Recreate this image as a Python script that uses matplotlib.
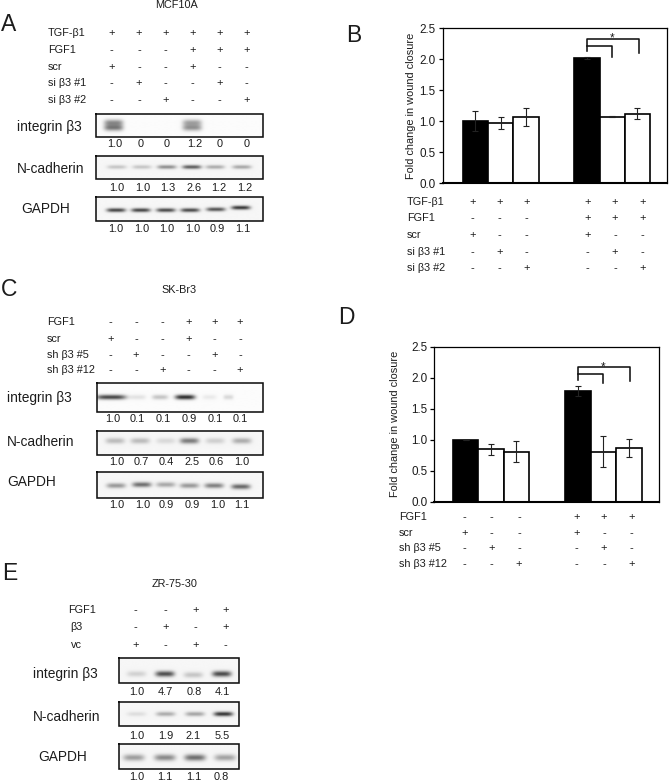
import numpy as np
import matplotlib
matplotlib.use("Agg")
import matplotlib.pyplot as plt

plt.rcParams['font.family'] = ['Liberation Sans', 'DejaVu Sans']

W, H = 669, 781
INK = '#1c1c1c'

# ---------- data: bar charts ----------
b_values = [1.00, 0.97, 1.07, 2.02, 1.07, 1.12]
b_errors = [0.16, 0.09, 0.15, 0.02, 0.01, 0.09]
b_colors = ['black', 'white', 'white', 'black', 'white', 'white']
d_values = [1.00, 0.85, 0.81, 1.79, 0.81, 0.87]
d_errors = [0.005, 0.09, 0.17, 0.08, 0.25, 0.15]
d_colors = ['black', 'white', 'white', 'black', 'white', 'white']
y_ticks = [0.0, 0.5, 1.0, 1.5, 2.0, 2.5]
y_label = 'Fold change in wound closure'

# ---------- data: treatment tables ----------
a_rows = ['TGF-β1', 'FGF1', 'scr', 'si β3 #1', 'si β3 #2']
a_marks = ['++++++', '---+++', '+--+--', '-+--+-', '--+--+']
c_rows = ['FGF1', 'scr', 'sh β3 #5', 'sh β3 #12']
c_marks = ['---+++', '+--+--', '-+--+-', '--+--+']
e_rows = ['FGF1', 'β3', 'vc']
e_marks = ['--++', '-+-+', '+-+-']

# ---------- data: densitometry labels ----------
a_integrin = ['1.0', '0', '0', '1.2', '0', '0']
a_ncad = ['1.0', '1.0', '1.3', '2.6', '1.2', '1.2']
a_gapdh = ['1.0', '1.0', '1.0', '1.0', '0.9', '1.1']
c_integrin = ['1.0', '0.1', '0.1', '0.9', '0.1', '0.1']
c_ncad = ['1.0', '0.7', '0.4', '2.5', '0.6', '1.0']
c_gapdh = ['1.0', '1.0', '0.9', '0.9', '1.0', '1.1']
e_integrin = ['1.0', '4.7', '0.8', '4.1']
e_ncad = ['1.0', '1.9', '2.1', '5.5']
e_gapdh = ['1.0', '1.1', '1.1', '0.8']

# ---------- data: visual band darkness (0-1) ----------
a_integrin_dark = [0.50, 0.40]
a_ncad_dark = [0.20, 0.20, 0.42, 0.62, 0.30, 0.32]
a_gapdh_dark = [0.72, 0.72, 0.70, 0.70, 0.66, 0.78]
c_integrin_dark = [0.72, 0.10, 0.22, 0.82, 0.07, 0.14]
c_ncad_dark = [0.24, 0.24, 0.12, 0.50, 0.16, 0.30]
c_gapdh_dark = [0.38, 0.55, 0.32, 0.38, 0.48, 0.58]
e_integrin_dark = [0.15, 0.68, 0.20, 0.70]
e_ncad_dark = [0.10, 0.30, 0.33, 0.78]
e_gapdh_dark = [0.36, 0.44, 0.55, 0.34]

fig = plt.figure(figsize=(W / 100, H / 100), dpi=100, facecolor='white')


def axes_px(x0, y0, x1, y1, **kw):
    return fig.add_axes([x0 / W, 1 - y1 / H, (x1 - x0) / W, (y1 - y0) / H], **kw)


def bar_panel(box, values, errors, colors, first, second_gap, width_px, bracket):
    ax = axes_px(*box)
    x0, y0, x1, y1 = box
    positions = np.array([0, 1, 2, second_gap, second_gap + 1, second_gap + 2])
    ax.bar(positions, values, width=1.0, color=colors, edgecolor='black', linewidth=1.2, zorder=2)
    ax.errorbar(positions, values, yerr=errors, fmt='none', ecolor='#222222',
                elinewidth=0.8, capsize=2.4, capthick=0.8, zorder=3)
    ax.set_xlim((x0 - first) / width_px, (x1 - first) / width_px)
    ax.set_ylim(0, 2.5)
    ax.set_xticks([])
    ax.set_yticks(y_ticks)
    ax.set_yticklabels([f'{v:.1f}' for v in y_ticks], fontsize=8.4, color=INK)
    ax.tick_params(axis='y', length=3, width=0.9, pad=2, color='black')
    for name, spine in ax.spines.items():
        spine.set_linewidth(1.5 if name == 'bottom' else 0.9)
    ax.set_ylabel(y_label, fontsize=7.9, color=INK, labelpad=3)
    top, inner, right_end, inner_end, left_end, star = bracket
    a, b, c = positions[3], positions[4], positions[5]
    ax.plot([a, a, c + 0.05, c + 0.05], [left_end, top, top, right_end], color='#111111', lw=1.15, zorder=4)
    ax.plot([a, b, b], [inner, inner, inner_end], color='#111111', lw=1.15, zorder=4)
    ax.text(b, star, '*', ha='center', va='center', fontsize=8.5, color=INK)
    return ax


ax_b = bar_panel((442.7, 28.3, 667, 183), b_values, b_errors, b_colors,
                 475.3, 4.41, 25.3, (2.33, 2.22, 2.105, 2.04, 2.14, 2.33))
ax_d = bar_panel((434.3, 346.7, 659.3, 502), d_values, d_errors, d_colors,
                 465.5, 4.43, 25.4, (2.17, 2.065, 1.95, 1.91, 1.96, 2.17))
ax_b.yaxis.set_label_coords((416 - 442.7) / (667 - 442.7), 0.5)
ax_d.yaxis.set_label_coords((400 - 434.3) / (659.3 - 434.3), 0.5)

# overlay in pixel coordinates for text and blots
ov = fig.add_axes([0, 0, 1, 1], facecolor='none')
ov.axis('off')


def label(x, y, s, size=7.8, ha='left'):
    ov.text(x, y, s, fontsize=size, ha=ha, va='center', color=INK)


def table(rows, marks, row_y, col_x, label_x):
    if np.isscalar(label_x):
        label_x = [label_x] * len(rows)
    for name, line, y, lx in zip(rows, marks, row_y, label_x):
        label(lx, y, name)
        for ch, x in zip(line, col_x):
            label(x, y, ch, size=8, ha='center')


def values_row(vals, xs, y):
    for v, x in zip(vals, xs):
        label(x, y, v, size=7.9, ha='center')


def blot(box, lanes, dark, band_y, half_w=9.5, sig=1.5, double=None, bg=0.965, tilt=None):
    x0, y0, x1, y1 = box
    xs = np.linspace(x0, x1, int((x1 - x0) * 3))
    ys = np.linspace(y0, y1, int((y1 - y0) * 3))
    X, Y = np.meshgrid(xs, ys)
    D = np.zeros_like(X)
    offs = tilt or [0] * len(lanes)
    widths = half_w if isinstance(half_w, (list, tuple)) else [half_w] * len(lanes)
    for lx, d, o, hw in zip(lanes, dark, offs, widths):
        fx = np.exp(-((X - lx) / hw) ** 4)
        if double:
            for yy, f in double:
                D += d * f * fx * np.exp(-((Y - yy - o) / sig) ** 2 / 2)
        else:
            D += d * fx * np.exp(-((Y - band_y - o) / sig) ** 2 / 2)
    img = np.clip(bg * (1 - np.clip(D, 0, 0.92)), 0, 1)
    ov.imshow(img, extent=(x0, x1, y1, y0), cmap='gray', vmin=0, vmax=1,
              aspect='auto', interpolation='bilinear', zorder=1)
    ov.plot([x0, x1, x1, x0, x0], [y0, y0, y1, y1, y0], color='#111111', lw=1.15, zorder=2,
            solid_joinstyle='miter')


# ---------- panel A ----------
label(176.7, 5, 'MCF10A', ha='center')
table(a_rows, a_marks, [33.3, 50, 66.7, 83.3, 100],
      [111.7, 139, 165.7, 192.3, 219.3, 246.7], 47.7)
blot((96, 113.7, 262.7, 137), [113.5, 192], a_integrin_dark, 126, half_w=9.5,
     double=[(123, 0.85), (128, 1.0)], sig=2.2, bg=0.985)
blot((96, 155.7, 262.7, 179.3), [116.7, 141.7, 166.7, 191.7, 215, 241.7], a_ncad_dark, 167.5, sig=1.4)
blot((96, 197.3, 262.7, 221), [116, 140.7, 165.7, 190, 215.7, 240.7], a_gapdh_dark, 210.3, sig=1.4,
     tilt=[0, 0, 0, 0, -0.8, -2.5])
values_row(a_integrin, np.array([343, 421, 500, 583, 660, 740]) / 3, 144.3)
values_row(a_ncad, np.array([351, 428, 504, 581, 657, 734]) / 3, 188.3)
values_row(a_gapdh, np.array([347, 424, 500, 577, 652, 729]) / 3, 229)
label(16.7, 126.5, 'integrin β3', size=9.9)
label(16.7, 169, 'N-cadherin', size=9.9)
label(21.7, 209.3, 'GAPDH', size=9.9)

# ---------- panel B table ----------
table(a_rows, a_marks, [201.7, 218.3, 235, 251.7, 268.3],
      [472.3, 499.3, 526.7, 587.7, 615, 642.3], 406.7)

# ---------- panel C ----------
label(179.3, 290, 'SK-Br3', ha='center')
table(c_rows, c_marks, [322.3, 338.7, 354.7, 370.3],
      [110.3, 136, 162.3, 188.3, 214.3, 240], 46.7)
blot((97, 383.3, 262.7, 412), [111, 137.7, 160, 185, 209.3, 228.3], c_integrin_dark, 397.3,
     half_w=[15, 8, 8, 10, 7, 5], sig=1.7, bg=0.985)
blot((97, 431, 262.7, 455.3), [115, 140, 165.7, 189.3, 215, 241.7], c_ncad_dark, 441.5, sig=2.0)
blot((97, 472, 262.7, 497.7), [116, 141.7, 165.7, 189.3, 214, 240.7], c_gapdh_dark, 485.5, sig=1.8,
     tilt=[0, -1, -1, 0, 0, 1])
values_row(c_integrin, np.array([337, 413, 490, 568, 645, 722]) / 3, 419)
values_row(c_ncad, np.array([350, 425, 498, 575, 650, 725]) / 3, 462.3)
values_row(c_gapdh, np.array([350, 427, 500, 577, 652, 726]) / 3, 505)
label(7.3, 398.3, 'integrin β3', size=9.9)
label(7.3, 442.3, 'N-cadherin', size=9.9)
label(7.3, 482.3, 'GAPDH', size=9.9)

# ---------- panel D table ----------
table(c_rows, c_marks, [517.3, 533.3, 548.3, 564.3],
      [464.3, 491.7, 519, 576.7, 604, 631.3], 399)

# ---------- panel E ----------
label(175, 584.3, 'ZR-75-30', ha='center')
table(e_rows, e_marks, [610, 627, 645], [135.7, 165.7, 195.7, 225.7], [68.3, 70, 70.7])
blot((119.3, 658, 238.7, 683.3), [136.7, 165, 193.3, 221.7], e_integrin_dark, 674.5, sig=2.0,
     tilt=[0, 0, 1, 0])
blot((119.3, 701.7, 238.7, 726.3), [136.7, 165.7, 195, 223.3], e_ncad_dark, 714.5, sig=1.6)
blot((119.3, 743.7, 238.7, 768.7), [134, 165, 195, 225], e_gapdh_dark, 757.3, sig=2.3, half_w=10.5)
values_row(e_integrin, np.array([410, 495, 582, 668]) / 3, 692)
values_row(e_ncad, np.array([410, 497, 580, 668]) / 3, 735.7)
values_row(e_gapdh, np.array([410, 495, 580, 665]) / 3, 776.7)
label(33.3, 674, 'integrin β3', size=9.9)
label(33.3, 716.7, 'N-cadherin', size=9.9)
label(38.3, 756.7, 'GAPDH', size=9.9)

# ---------- panel letters ----------
for letter, x, y in [('A', 1, 24.5), ('B', 346, 35), ('C', 1, 289), ('D', 338, 318), ('E', 2, 573)]:
    label(x, y, letter, size=16.5)

ov.set_xlim(0, W)
ov.set_ylim(H, 0)

fig.savefig('out.png', dpi=100, facecolor='white')
